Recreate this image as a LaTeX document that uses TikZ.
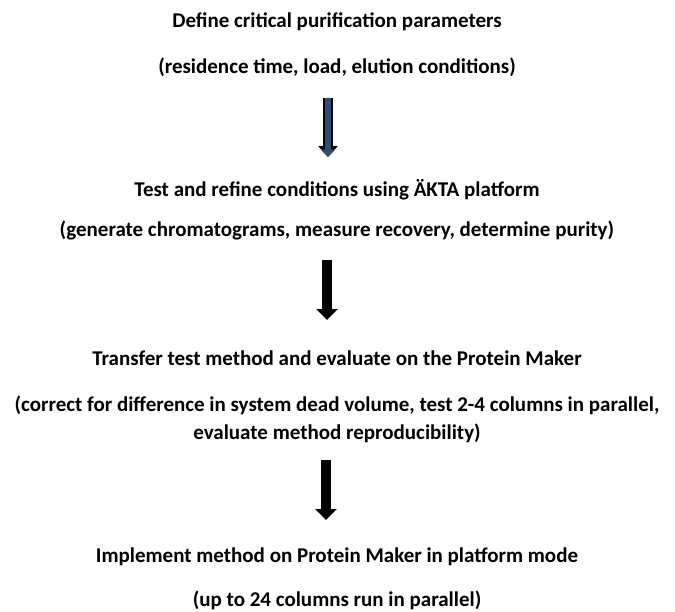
\documentclass[tikz,border=0pt]{standalone}
\usepackage{fontspec}
\setmainfont{Carlito}
\usetikzlibrary{arrows.meta}
\definecolor{navy}{HTML}{2E4D72}
\tikzset{
  lbl/.style={font=\bfseries\fontsize{21}{28}\selectfont, inner sep=0pt, align=center},
  bigarrow/.style={line width=10pt, -{Triangle[width=21pt,length=11pt]}, black},
  bluearrow/.style={preaction={draw=black, line width=10pt, -{Triangle[width=19pt,length=11pt]}}, draw=navy, line width=6pt, -{Triangle[width=14pt,length=7.5pt]}}
}
\begin{document}
\begin{tikzpicture}[x=1pt,y=-1pt]
\useasboundingbox (0,0) rectangle (675,611);
\node[lbl] (t1) at (337,22) {Define critical purification parameters};
\node[lbl] (t2) at (337,67) {(residence time, load, elution conditions)};
\node[lbl] (t3) at (337,190) {Test and refine conditions using ÄKTA platform};
\node[lbl] (t4) at (337,230) {(generate chromatograms, measure recovery, determine purity)};
\node[lbl] (t5) at (337,358) {Transfer test method and evaluate on the Protein Maker};
\node[lbl] (t6) at (337,419) {(correct for difference in system dead volume, test 2-4 columns in parallel,\\evaluate method reproducibility)};
\node[lbl] (t7) at (337,557) {Implement method on Protein Maker in platform mode};
\node[lbl] (t8) at (337,600) {(up to 24 columns run in parallel)};
\coordinate (a1s) at (328,98);
\coordinate (a1e) at (328,157);
\coordinate (a2s) at (327,260);
\coordinate (a2e) at (327,320);
\coordinate (a3s) at (326,460);
\coordinate (a3e) at (326,520);
\draw[bluearrow] (a1s) -- (a1e);
\draw[bigarrow] (a2s) -- (a2e);
\draw[bigarrow] (a3s) -- (a3e);
\end{tikzpicture}
\end{document}
